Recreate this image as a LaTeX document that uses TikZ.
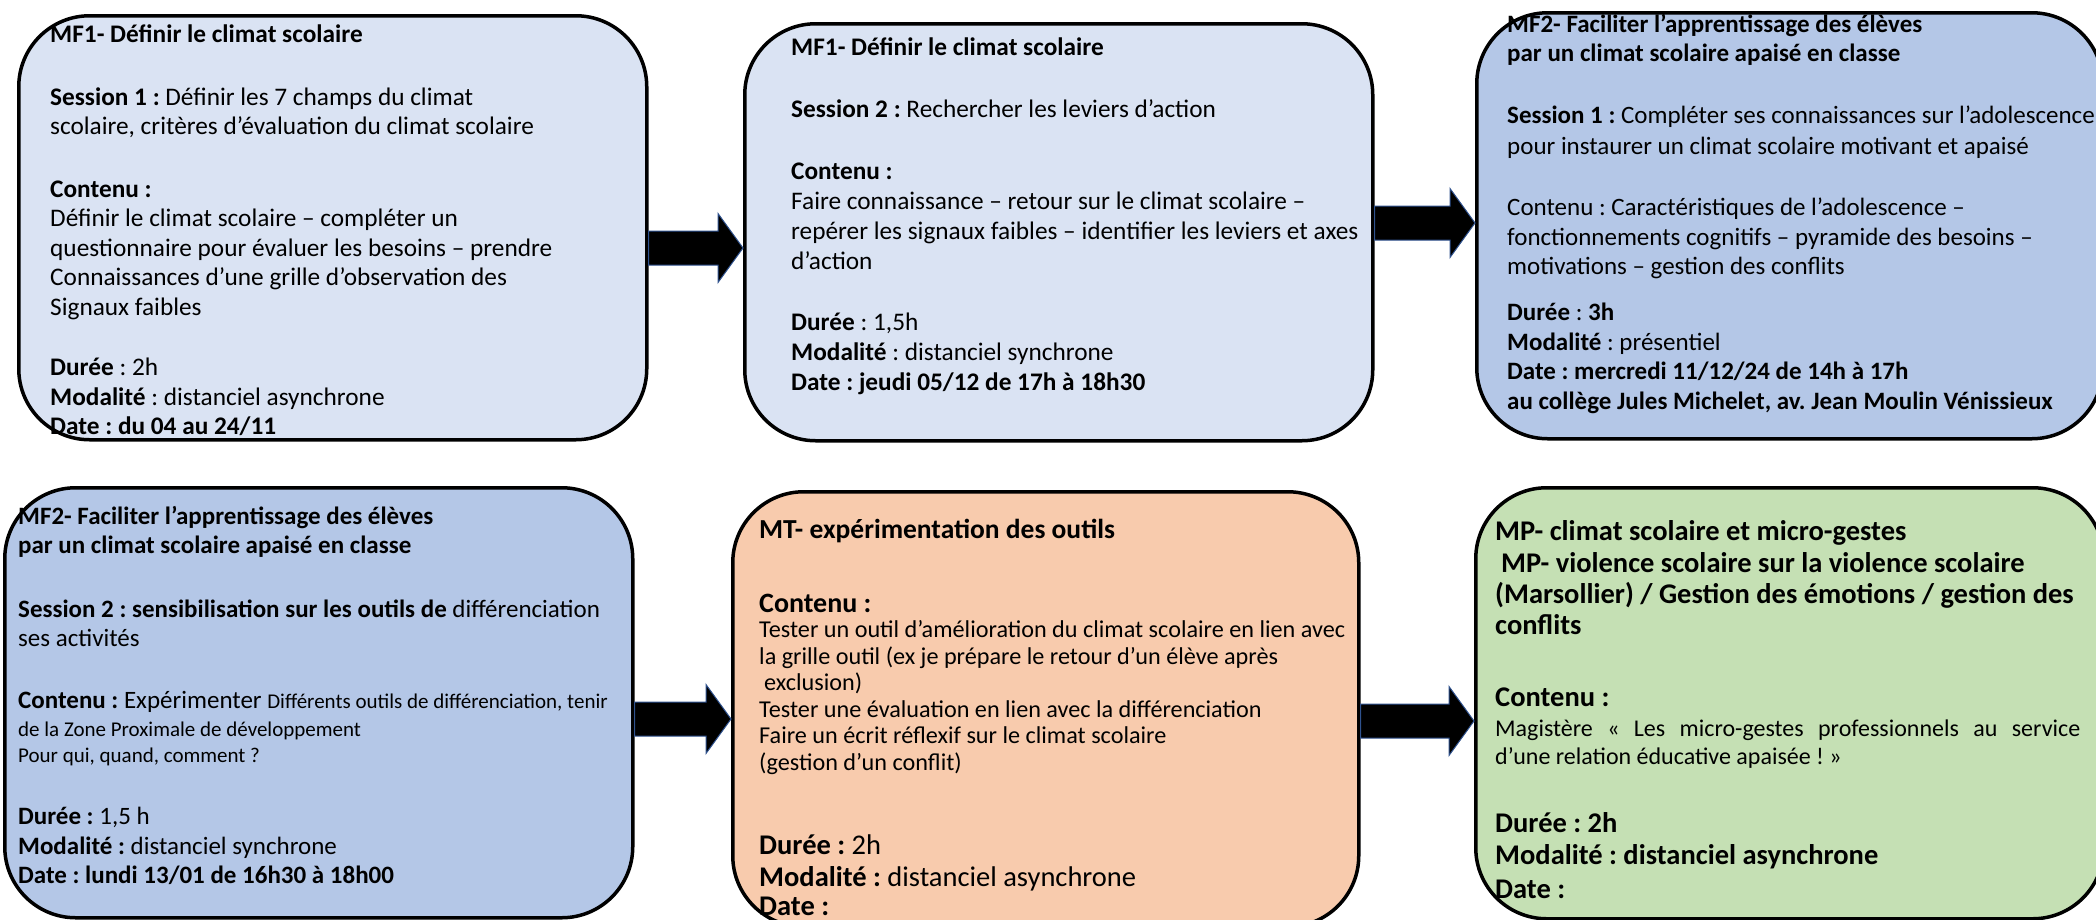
\documentclass[tikz,border=0pt]{standalone}
\usepackage{fontspec}
\setmainfont{Carlito}
\frenchspacing
\usetikzlibrary{calc}

\definecolor{bleuclair}{HTML}{DAE3F3}
\definecolor{bleumoyen}{HTML}{B4C7E7}
\definecolor{saumon}{HTML}{F8CBAD}
\definecolor{vertclair}{HTML}{C5E0B4}
\definecolor{contour}{HTML}{2F528F}

\tikzset{
  card/.style={draw=black, line width=3.5pt, rounded corners=71pt, anchor=north west, inner sep=0pt},
  txt/.style={anchor=north west, align=left, inner sep=0pt, font=\fontsize{25.3pt}{29.5pt}\selectfont},
  fleche/.style={fill=black, draw=contour, line width=1pt}
}
% block arrow from box #1 to box #2, at height #3
\newcommand{\blocfleche}[3]{%
  \draw[fleche] let \p1=(#1.east), \p2=(#2.west), \p3=(0,#3) in
    (\x1,{\y3+17pt}) -- ({\x2-25pt},{\y3+17pt}) -- ({\x2-25pt},{\y3+34.5pt})
    -- (\x2,\y3) -- ({\x2-25pt},{\y3-34.5pt}) -- ({\x2-25pt},{\y3-17pt})
    -- (\x1,{\y3-17pt}) -- cycle;}
\newcommand{\grand}[1]{{\fontsize{28.5pt}{33pt}\selectfont #1}}

\begin{document}
\begin{tikzpicture}[x=1pt,y=-1pt]
  \useasboundingbox (0,0) rectangle (2096,919);

  % the six boxes
  \node[card, fill=bleuclair, minimum width=628pt, minimum height=424pt] (mf1s1) at (17,14) {};
  \node[card, fill=bleuclair, minimum width=628pt, minimum height=417pt] (mf1s2) at (743,22) {};
  \node[card, fill=bleumoyen, minimum width=626pt, minimum height=426pt] (mf2s1) at (1475,11) {};
  \node[card, fill=bleumoyen, minimum width=628pt, minimum height=430pt] (mf2s2) at (3,486) {};
  \node[card, fill=saumon, minimum width=626pt, minimum height=435pt] (mt) at (731,490) {};
  \node[card, fill=vertclair, minimum width=628pt, minimum height=431pt] (mp) at (1474,486) {};

  \blocfleche{mf1s1}{mf1s2}{248}
  \blocfleche{mf1s2}{mf2s1}{223}
  \blocfleche{mf2s2}{mt}{719}
  \blocfleche{mt}{mp}{721}

  \node[txt] (t1) at (50,25) {\textbf{MF1- Définir le climat scolaire}\\[33pt]
    \textbf{Session 1 :} Définir les 7 champs du climat\\
    scolaire, critères d’évaluation du climat scolaire\\[33pt]
    \textbf{Contenu :}\\
    Définir le climat scolaire – compléter un\\
    questionnaire pour évaluer les besoins – prendre\\
    Connaissances d’une grille d’observation des\\
    Signaux faibles\\[31pt]
    \textbf{Durée} : 2h\\
    \textbf{Modalité} : distanciel asynchrone\\
    \textbf{Date : du 04 au 24/11}};

  \node[txt, font=\fontsize{25.3pt}{30pt}\selectfont] (t2) at (791,38) {\textbf{MF1- Définir le climat scolaire}\\[32pt]
    \textbf{Session 2 :} Rechercher les leviers d’action\\[32pt]
    \textbf{Contenu :}\\
    Faire connaissance – retour sur le climat scolaire –\\
    repérer les signaux faibles – identifier les leviers et axes\\
    d’action\\[31pt]
    \textbf{Durée} : 1,5h\\
    \textbf{Modalité} : distanciel synchrone\\
    \textbf{Date : jeudi 05/12 de 17h à 18h30}};

  \node[txt, font=\fontsize{25pt}{29.5pt}\selectfont] (t3) at (1507,14) {\textbf{MF2- Faciliter l’apprentissage des élèves}\\
    \textbf{par un climat scolaire apaisé en classe}\\[32.5pt]
    \textbf{Session 1 :} Compléter ses connaissances sur l’adolescence\\[1.5pt]
    pour instaurer un climat scolaire motivant et apaisé\\[31.5pt]
    Contenu : Caractéristiques de l’adolescence –\\
    fonctionnements cognitifs – pyramide des besoins –\\
    motivations – gestion des conflits\\[16.5pt]
    \textbf{Durée} : \textbf{3h}\\
    \textbf{Modalité} : présentiel\\
    \textbf{Date : mercredi 11/12/24 de 14h à 17h}\\
    \textbf{au collège Jules Michelet, av. Jean Moulin Vénissieux}};

  \node[txt, font=\fontsize{25pt}{29.5pt}\selectfont] (t4) at (18,506) {\textbf{MF2- Faciliter l’apprentissage des élèves}\\
    \textbf{par un climat scolaire apaisé en classe}\\[34pt]
    \textbf{Session 2 : sensibilisation sur les outils de} différenciation\\
    ses activités\\[32.5pt]
    \textbf{Contenu :} Expérimenter {\fontsize{21pt}{26pt}\selectfont Différents outils de différenciation, tenir}\\[-1.5pt]
    {\fontsize{21pt}{26pt}\selectfont de la Zone Proximale de développement}\\[-3.5pt]
    {\fontsize{21pt}{26pt}\selectfont Pour qui, quand, comment ?}\\[32.5pt]
    \textbf{Durée :} 1,5 h\\
    \textbf{Modalité :} distanciel synchrone\\
    \textbf{Date : lundi 13/01 de 16h30 à 18h00}};

  \node[txt, font=\fontsize{24.2pt}{26.5pt}\selectfont] (t5) at (759,519) {{\fontsize{27.5pt}{33pt}\selectfont\bfseries MT- expérimentation des outils}\\[47.5pt]
    {\fontsize{28pt}{33pt}\selectfont\bfseries Contenu :}\\[-1.5pt]
    Tester un outil d’amélioration du climat scolaire en lien avec\\
    la grille outil (ex je prépare le retour d’un élève après\\
    \hspace*{5pt}exclusion)\\
    Tester une évaluation en lien avec la différenciation\\
    Faire un écrit réflexif sur le climat scolaire\\
    (gestion d’un conflit)\\[57.5pt]
    {\fontsize{28.5pt}{33pt}\selectfont\textbf{Durée :} 2h}\\[5.5pt]
    {\fontsize{28.5pt}{33pt}\selectfont\textbf{Modalité :} distanciel asynchrone}\\[2.5pt]
    {\fontsize{28.5pt}{33pt}\selectfont\textbf{Date :}}};

  \node[txt, font=\fontsize{24pt}{28pt}\selectfont] (t6) at (1495,520) {\grand{\textbf{MP- climat scolaire et micro-gestes}}\\[4pt]
    \grand{\textbf{\hspace*{6pt}MP- violence scolaire sur la violence scolaire}}\\[3pt]
    \grand{\textbf{(Marsollier) / Gestion des émotions / gestion des}}\\[3pt]
    \grand{\textbf{conflits}}\\[44pt]
    \grand{\textbf{Contenu :}}\\[2pt]
    \makebox[585pt][s]{Magistère « Les micro-gestes professionnels au service}\\
    d’une relation éducative apaisée ! »\\[40pt]
    \grand{\textbf{Durée : 2h}}\\[4pt]
    \grand{\textbf{Modalité : distanciel asynchrone}}\\[6pt]
    \grand{\textbf{Date :}}};
\end{tikzpicture}
\end{document}
